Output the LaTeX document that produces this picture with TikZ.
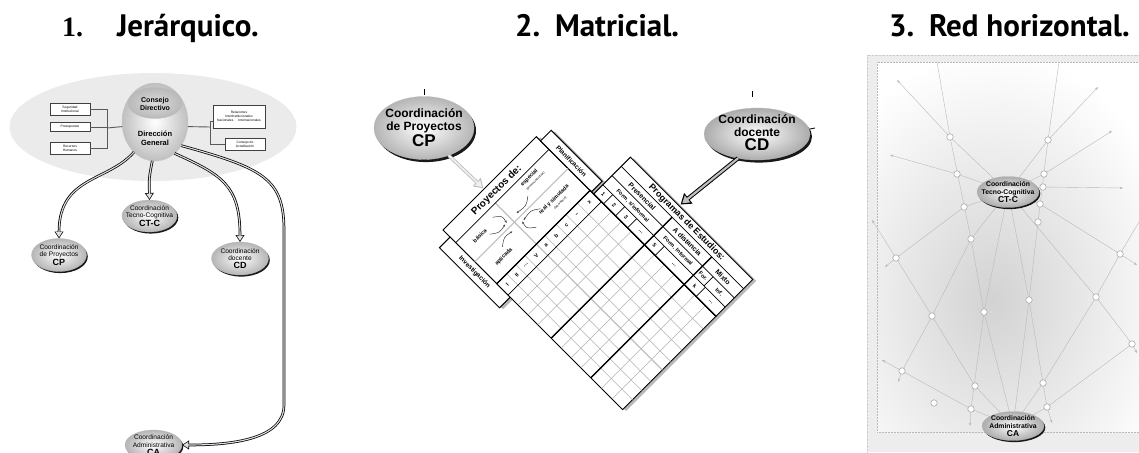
\documentclass[tikz,border=0pt]{standalone}
\usepackage{fontspec}
\setmainfont{Liberation Sans}
\newfontfamily\titlefont{PT Sans}
\newfontfamily\numfont{Liberation Serif}
\usetikzlibrary{arrows.meta,shapes.geometric,shadows}

\newcommand{\fsz}[2]{\fontsize{#1}{#2}\selectfont}
\newcommand{\hollowarrow}[3]{\draw[#1] #3; \draw[#2] #3;}

\tikzset{
  every node/.style={inner sep=0pt, outer sep=0pt},
  ttl/.style={font=\titlefont\bfseries\fsz{31}{33}, anchor=base west},
  ttlnum/.style={font=\numfont\bfseries\fsz{28}{30}, anchor=base west},
  bgell/.style={ellipse, fill=gray!16},
  shadeell/.style={ellipse, shade, inner color=white, outer color=gray!58, draw=gray!55, line width=0.3pt},
  shA/.style={drop shadow={fill=black, opacity=0.9, shadow xshift=1.3pt, shadow yshift=-1.6pt}},
  shB/.style={drop shadow={fill=black, opacity=0.9, shadow xshift=2pt, shadow yshift=-2.6pt}},
  lbl/.style={align=center},
  smallbox/.style={draw=black!75, line width=0.8pt, fill=white, align=center, font=\fsz{3.3}{3.9}},
  bus/.style={draw=black!65, line width=0.9pt},
  aout/.style={line width=2.6pt, draw=black, -{Triangle[length=7pt,width=8.5pt]}},
  ain/.style={line width=1.1pt, draw=gray!25, -{Triangle[length=5pt,width=6pt]}, shorten >=1.3pt},
  bout/.style={line width=3.4pt, draw=gray!55, -{Triangle[length=9pt,width=11pt]}},
  bin/.style={line width=1.8pt, draw=gray!12, -{Triangle[length=6.5pt,width=7.5pt]}, shorten >=1.6pt},
  cout/.style={line width=4.2pt, draw=black, -{Triangle[length=10pt,width=13pt]}},
  cin/.style={line width=2.2pt, draw=gray!50, -{Triangle[length=7pt,width=8.5pt]}, shorten >=2pt},
  tbl/.style={draw=black, line width=1pt},
  fine/.style={draw=gray!60, line width=0.5pt},
  major/.style={draw=black, line width=1.3pt},
  midln/.style={draw=black, line width=0.7pt},
  curv/.style={draw=gray!45!black, line width=0.5pt, -{Stealth[length=2.5pt,width=2pt]}},
  tx/.style={font=\bfseries\fsz{5.5}{6}},
  net/.style={draw=gray!55, line width=0.4pt},
  nettip/.style={net, -{Stealth[length=3.5pt,width=2.5pt]}},
  netdot/.style={circle, draw=gray!65, fill=white, line width=0.6pt, minimum size=6.5pt},
  smalllbl/.style={align=center, font=\fsz{6.6}{7.4}},
  bigbold/.style={align=center, font=\bfseries\fsz{12}{13}},
  netlbl/.style={align=center, font=\bfseries\fsz{6.8}{7.4}},
}

\begin{document}
\begin{tikzpicture}[x=1pt,y=-1pt]
\useasboundingbox (0,0) rectangle (1139,452);
\begin{scope}
\clip (0,0) rectangle (1139,452);

% ---------------- titles
\node[ttlnum] (t1n) at (62,37) {1.};
\node[ttl] (t1w) at (117,37) {Jerárquico.};
\node[ttl] (t2n) at (515,37) {2.};
\node[ttl] (t2w) at (555,37) {Matricial.};
\node[ttl] (t3n) at (889,37) {3.};
\node[ttl] (t3w) at (929,37) {Red horizontal.};

% ---------------- panel 1
\node[bgell, minimum width=287pt, minimum height=108pt] (bg1) at (153,127) {};
\node[ellipse, minimum width=66pt, minimum height=78pt, shade, inner color=white, outer color=gray!50, draw=gray!45] (dg) at (155,122) {};
\node[shadeell, inner color=gray!28, outer color=gray!55, minimum width=54pt, minimum height=31pt] (cdir) at (155,103) {};
\node[lbl, font=\bfseries\fsz{7}{8.5}] (cdirt) at (155,104) {Consejo\\Directivo};
\node[lbl, font=\bfseries\fsz{7.5}{9}] (dgt) at (155,138) {Dirección\\General};

\node[smallbox, minimum width=40pt, minimum height=12pt] (b1) at (70,109) {Seguridad\\Institucional};
\node[smallbox, minimum width=40pt, minimum height=9pt] (b2) at (70,127) {Presupuesto};
\node[smallbox, minimum width=40pt, minimum height=12pt] (b3) at (70,148) {Recursos\\Humanos};
\coordinate (bl) at (107,128);
\draw[bus] (b1.east) -| (bl);
\draw[bus] (b3.east) -| (bl);
\draw[bus] (b2.east) -- (b2.east -| bl);
\draw[bus] (bl) -- (dg.188);

\node[smallbox, minimum width=52pt, minimum height=23pt] (r1) at (239,116.5) {Relaciones\\Interinstitucionales\\[0.6pt]Nacionales\hspace{5pt}Internacionales};
\node[smallbox, minimum width=40pt, minimum height=12pt] (r2) at (245,144) {Consejo de\\Acreditación};
\coordinate (br) at (210,127);
\draw[bus] (dg.-8) -- (br);
\draw[bus] (br) |- ([yshift=-5pt]r1.west);
\draw[bus] (br) |- (r2.west);

\node[shadeell, shA, minimum width=55pt, minimum height=33pt] (cp1) at (59,255) {};
\node[smalllbl] (cp1t) at (59,255) {Coordinación\\de Proyectos\\[0.6pt]\bfseries\fsz{9}{9}CP};
\node[shadeell, shA, minimum width=55pt, minimum height=32pt] (ctc1) at (149.5,216) {};
\node[smalllbl] (ctc1t) at (149.5,216) {Coordinación\\Tecno-Cognitiva\\[0.6pt]\bfseries\fsz{9}{9}CT-C};
\node[shadeell, shA, minimum width=57pt, minimum height=33pt] (cd1) at (240,258.5) {};
\node[smalllbl] (cd1t) at (240,258.5) {Coordinación\\docente\\[0.6pt]\bfseries\fsz{9}{9}CD};
\node[shadeell, shA, minimum width=57pt, minimum height=30pt] (ca1) at (153.5,445) {};
\node[smalllbl] (ca1t) at (153.5,445) {Coordinación\\Administrativa\\[0.6pt]\bfseries\fsz{9}{9}CA};

\hollowarrow{aout}{ain}{(dg.235) .. controls (108,182) and (59,176) .. (cp1.north)}
\hollowarrow{aout}{ain}{(dg.266) .. controls (149,178) .. (ctc1.north)}
\hollowarrow{aout}{ain}{(dg.302) .. controls (222,175) and (240,185) .. (cd1.north)}
\hollowarrow{aout}{ain}{(dg.318) .. controls (262,168) and (284,178) .. (284,230) -- (284,405) .. controls (284,440) and (230,445) .. (ca1.east)}

% ---------------- panel 2
\node[shadeell, shB, minimum width=100pt, minimum height=63pt] (cp2) at (424,128) {};
\node[bigbold] (cp2t) at (424,128) {Coordinación\\de Proyectos\\[0.5pt]\fsz{17}{17}CP};
\node[shadeell, shB, outer color=gray!65, minimum width=106pt, minimum height=52pt] (cd2) at (757,134) {};
\node[bigbold] (cd2t) at (757,133) {Coordinación\\docente\\[1pt]\fsz{17}{17}CD};
\draw[line width=1pt] (424,89) -- (424,95);
\draw[line width=1pt] (752,91) -- (752,97);
\draw[line width=0.8pt] (810,129) -- (815,128);

\begin{scope}[shift={(443,230)}, rotate=45]
  % shadows
  \fill[gray!55] (1.5,3.5) -- (134.5,3.5) -- (134.5,80) -- (1.5,80) -- cycle;
  \fill[gray!55] (133.5,9.5) -- (148.5,9.5) -- (148.5,81.5) -- (133.5,81.5) -- cycle;
  \fill[gray!55] (-13.5,13.5) -- (1.5,13.5) -- (1.5,98.5) -- (-13.5,98.5) -- cycle;
  \fill[gray!55] (1.5,80) -- (185.5,84.5) -- (185.5,257.5) -- (1.5,257.5) -- cycle;
  % panels
  \filldraw[tbl, fill=white] (0,0) rectangle (132,76);
  \filldraw[tbl, fill=white] (132,6) rectangle (147,78);
  \filldraw[tbl, fill=white] (-15,10) rectangle (0,95);
  \filldraw[tbl, fill=white] (0,76) rectangle (132,254);
  \filldraw[tbl, fill=white] (132,81) rectangle (184,254);
  % grid
  \foreach \u in {14,27,40,68,84,98,114} \draw[fine] (\u,76) -- (\u,254);
  \foreach \w in {106,120,134,167,181,195,224,239} \draw[fine] (0,\w) -- (132,\w);
  \draw[gray!50, line width=1.2pt] (56,18) -- (56,254);
  \draw[gray!50, line width=1.2pt] (0,45) -- (132,45);
  \draw[midln] (0,18) -- (132,18);
  \draw[midln] (0,92) -- (132,92);
  \draw[major] (0,76) -- (132,76);
  \draw[major] (132,76) -- (132,254);
  \draw[major] (0,153) -- (171,153);
  \draw[major] (0,209) -- (171,209);
  \draw[midln] (145,81) -- (145,254);
  \draw[midln] (158,81) -- (158,254);
  \draw[midln] (171,81) -- (171,254);
  \foreach \w in {95,112,129,168,226} \draw[midln] (132,\w) -- (145,\w);
  \draw[midln] (145,224) -- (158,224);
  % curved arrows
  \draw[curv] (30,36) .. controls (38,42) .. (48,40);
  \draw[curv] (30,54) .. controls (38,48) .. (48,50);
  \draw[curv] (84,36) .. controls (76,42) .. (64,40);
  \draw[curv] (84,54) .. controls (76,48) .. (64,50);
  \draw[curv] (44,26) .. controls (52,32) .. (50,40);
  \draw[curv] (68,64) .. controls (60,58) .. (62,50);
  % texts
  \node[rotate=45, font=\bfseries\fsz{10}{10}] (pyd) at (66,10) {Proyectos de:};
  \node[rotate=45, tx] (tbas) at (22,30) {básica};
  \node[rotate=45, tx] (tapl) at (24,62) {aplicada};
  \node[rotate=45, tx] (tesp) at (98,24) {especial};
  \node[rotate=45, font=\fsz{3}{3}] (tesp2) at (100,31) {(presencial/virtual)};
  \node[rotate=45, tx] (treal) at (100,57) {real y simulada};
  \node[rotate=45, font=\fsz{3}{3}] (treal2) at (102,64) {(laboratorio)};
  \node[rotate=45, tx] (rI) at (7,84) {I};
  \node[rotate=45, tx] (rII) at (20.5,84) {II};
  \node[rotate=45, tx] (rd) at (33.5,84) {\dots};
  \node[rotate=45, tx] (rV) at (48,84) {V};
  \node[rotate=45, tx] (la) at (62,84) {a};
  \node[rotate=45, tx] (lb) at (76,84) {b};
  \node[rotate=45, tx] (lc) at (91,84) {c};
  \node[rotate=45, tx] (ld) at (106,84) {--};
  \node[rotate=45, tx] (lx) at (123,84) {x};
  \node[rotate=-45, tx] (n1) at (138.5,88) {1};
  \node[rotate=-45, tx] (n2) at (138.5,103.5) {2};
  \node[rotate=-45, tx] (n3) at (138.5,120.5) {3};
  \node[rotate=-45, tx] (n4) at (138.5,141) {\dots};
  \node[rotate=-45, tx] (n5) at (138.5,160.5) {5};
  \node[rotate=-45, tx] (n6) at (138.5,188) {\dots};
  \node[rotate=-45, tx] (n7) at (138.5,217.5) {k};
  \node[rotate=-45, tx] (n8) at (138.5,240) {\dots};
  \node[rotate=-45, tx] (f1) at (151.5,117) {Form. s/informal};
  \node[rotate=-45, tx] (f2) at (151.5,181) {Form. Informal};
  \node[rotate=-45, tx] (f3) at (151.5,216.5) {For.};
  \node[rotate=-45, tx] (f4) at (151.5,239) {Inf.};
  \node[rotate=-45, font=\bfseries\fsz{7}{7}] (m1) at (164.5,117) {Presencial};
  \node[rotate=-45, font=\bfseries\fsz{7}{7}] (m2) at (164.5,181) {A distancia};
  \node[rotate=-45, font=\bfseries\fsz{7}{7}] (m3) at (164.5,231.5) {Mixto};
  \node[rotate=-45, font=\bfseries\fsz{9}{9}] (pge) at (177.5,167) {Programas de Estudios:};
  \node[rotate=-45, font=\bfseries\fsz{6.5}{6.5}] (plan) at (139.5,42) {Planificación};
  \node[rotate=-45, font=\bfseries\fsz{6.5}{6.5}] (inv) at (-7.5,52) {Investigación};
  \coordinate (pyt) at (58,-1);
  \coordinate (pgt) at (186,150);
\end{scope}
\hollowarrow{bout}{bin}{(cp2.-48) -- (pyt)}
\hollowarrow{cout}{cin}{(cd2.-128) -- (pgt)}

% ---------------- panel 3
\fill[gray!14] (867,55) rectangle (1139,452);
\fill[white] (877,62) rectangle (1139,432);
\begin{scope}
  \clip (877,62) rectangle (1139,432);
  \shade[inner color=gray!35, outer color=white] (993,300) ellipse [x radius=190pt, y radius=250pt];
\end{scope}
\draw[gray!55, densely dotted, line width=0.5pt] (877,432) -- (877,62) -- (1139,62);
\draw[gray!55, densely dotted, line width=0.5pt] (877,432) -- (1139,432);
\draw[gray!40, densely dotted, line width=0.4pt] (867,452) -- (867,55) -- (1139,55);

\coordinate (ctc3) at (1008,192);
\coordinate (ca3) at (1013,426);
\coordinate (c1) at (950,137);
\coordinate (c2) at (1048,140);
\coordinate (c3) at (957,174);
\coordinate (c4) at (1044,174);
\coordinate (c5) at (1043,187);
\coordinate (c6) at (964,207);
\coordinate (c7) at (1040,204);
\coordinate (c8) at (1038,222);
\coordinate (c9) at (971,239);
\coordinate (c10) at (896,258);
\coordinate (c11) at (1120,254);
\coordinate (c12) at (932,316);
\coordinate (c13) at (984,312);
\coordinate (c14) at (1029,300);
\coordinate (c15) at (1096,297);
\coordinate (c16) at (1132,344);
\coordinate (c17) at (902,371);
\coordinate (c18) at (975,386);
\coordinate (c19) at (1043,383);
\coordinate (c20) at (934,403);
\coordinate (c21) at (971,409);
\coordinate (c22) at (1047,407);
\coordinate (tA) at (897,80);
\coordinate (tB) at (890,155);
\coordinate (tC) at (937,62);
\coordinate (tD) at (1059,62);
\coordinate (tE) at (1098,87);
\coordinate (tF) at (1112,131);
\coordinate (tG) at (1123,188);
\coordinate (tH) at (1137,265);
\coordinate (tI) at (885,267);
\coordinate (tJ) at (872,220);
\coordinate (tK) at (898,382);
\coordinate (tL1) at (970,426);
\coordinate (tL2) at (1052,423);
\coordinate (tM) at (1137,353);
\coordinate (tN) at (1139,222);
\coordinate (tQ) at (882,360);

\draw[nettip] (ctc3) -- (c1) -- (tA);
\draw[nettip] (ctc3) -- (c3) -- (tB);
\draw[net] (tC) -- (c1) -- (c9) -- (c13) -- (ca3);
\draw[net] (tD) -- (c2) -- (c8) -- (c14) -- (ca3);
\draw[nettip] (ctc3) -- (c2) -- (tE);
\draw[nettip] (ctc3) -- (c4) -- (tF);
\draw[nettip] (ctc3) -- (c5) -- (tG);
\draw[nettip] (ctc3) -- (c7) -- (c11) -- (tH);
\draw[nettip] (ctc3) -- (c6) -- (c10) -- (tI);
\draw[nettip] (ca3) -- (c18) -- (c12) -- (c10) -- (tJ);
\draw[nettip] (ctc3) -- (c9) -- (c12) -- (c17) -- (tK);
\draw[nettip] (ctc3) -- (c13) -- (c21) -- (tL1);
\draw[nettip] (ctc3) -- (c14) -- (c22) -- (tL2);
\draw[nettip] (ctc3) -- (c15) -- (c16) -- (tM);
\draw[net] (tN) -- (c11) -- (c15) -- (c19) -- (ca3);
\draw[net] (ca3) -- (c22) -- (c16);
\draw[nettip] (ca3) -- (c21) -- (c17) -- (tQ);

\node[shadeell, shA, outer color=gray!65, minimum width=62pt, minimum height=31pt] (ctc3n) at (ctc3) {};
\node[netlbl] (ctc3t) at (ctc3) {Coordinación\\Tecno-Cognitiva\\[0.5pt]\fsz{8.5}{8.5}CT-C};
\node[shadeell, shA, outer color=gray!65, minimum width=62pt, minimum height=29pt] (ca3n) at (ca3) {};
\node[netlbl] (ca3t) at (ca3) {Coordinación\\Administrativa\\[0.5pt]\fsz{8.5}{8.5}CA};

\foreach \i in {1,...,22} \node[netdot] (d\i) at (c\i) {};
\end{scope}
\end{tikzpicture}
\end{document}
